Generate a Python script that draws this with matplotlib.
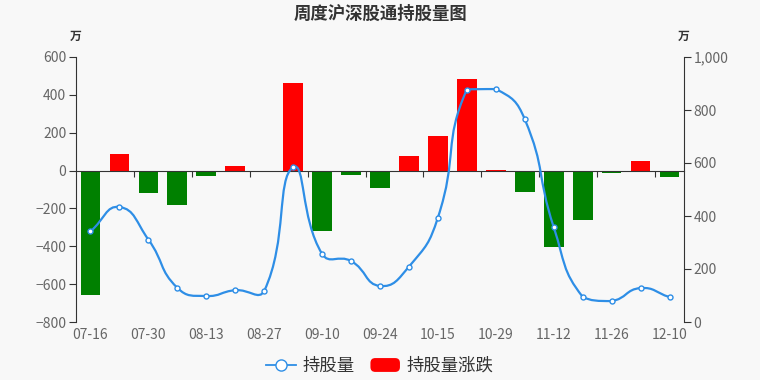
import numpy as np
import matplotlib.pyplot as plt
from matplotlib.path import Path
from matplotlib.patches import PathPatch, Patch, FancyBboxPatch
from matplotlib.lines import Line2D
from matplotlib.legend_handler import HandlerPatch
from matplotlib.ticker import MultipleLocator, FuncFormatter, FixedLocator

plt.rcParams['font.family'] = ['Noto Sans CJK SC', 'DejaVu Sans']

dates = ['07-16', '07-23', '07-30', '08-06', '08-13', '08-20', '08-27', '09-03',
         '09-10', '09-17', '09-24', '10-08', '10-15', '10-22', '10-29', '11-05',
         '11-12', '11-19', '11-26', '12-03', '12-10']
# 持股量 (万)
holding = [342, 434, 311, 129, 98, 120, 117, 584, 257, 230, 136, 209, 394,
           877, 879, 765, 358, 95, 79, 128, 94]
# 持股量涨跌 (万)
change = [-655, 90, -121, -181, -29, 23, -2, 463, -320, -26, -91, 75, 185,
          482, 5, -113, -405, -260, -14, 49, -33]

bg = '#f8f8f8'
axis_c = '#333333'
label_c = '#666666'
line_c = '#2e8ee6'


class RoundBox(HandlerPatch):
    def create_artists(self, legend, orig, xd, yd, w, h, fs, trans):
        p = FancyBboxPatch((-xd, -yd), w, h,
                           boxstyle='round,pad=0,rounding_size=%f' % (h * 0.35),
                           facecolor=orig.get_facecolor(), edgecolor='none',
                           transform=trans)
        return [p]


fig = plt.figure(figsize=(7.6, 3.8), dpi=100, facecolor=bg)
ax = fig.add_axes([76 / 760, 1 - 322 / 380, 608 / 760, 265 / 380])
ax.set_facecolor('none')
ax2 = ax.twinx()

x = np.arange(len(dates))
colors = ['#ff0000' if v >= 0 else '#008000' for v in change]
ax.bar(x, change, width=0.68, color=colors, zorder=2)

ax.set_xlim(-0.5, len(dates) - 0.5)
ax.set_ylim(-800, 600)
ax.yaxis.set_major_locator(MultipleLocator(200))
ax2.set_ylim(0, 1000)
ax2.yaxis.set_major_locator(MultipleLocator(200))
ax2.yaxis.set_major_formatter(FuncFormatter(lambda v, p: f'{int(v):,}'))

# x axis line sits on zero, ticks on every second category boundary
ax.spines['bottom'].set_position(('data', 0))
ax.spines['bottom'].set_color(axis_c)
ax.xaxis.set_major_locator(FixedLocator(np.arange(1.5, len(dates) - 1, 2)))
ax.xaxis.set_major_formatter(FuncFormatter(lambda v, p: ''))
ax.tick_params(axis='x', length=4, color=axis_c, direction='out')

sec = ax.secondary_xaxis(-0.0)
sec.spines['bottom'].set_visible(False)
sec.set_xticks(x[::2])
sec.set_xticklabels(dates[::2])
sec.tick_params(length=0, labelsize=10, labelcolor=label_c, pad=4)

for s in ['top', 'right']:
    ax.spines[s].set_visible(False)
for s in ['top', 'left', 'bottom']:
    ax2.spines[s].set_visible(False)
ax.spines['left'].set_color(axis_c)
ax2.spines['right'].set_color(axis_c)
ax.tick_params(axis='y', length=5, color=axis_c, labelsize=10, labelcolor=label_c, pad=2)
ax2.tick_params(axis='y', length=5, color=axis_c, labelsize=10, labelcolor=label_c, pad=2)

# smooth line (bezier through the points, control points from neighbours,
# clamped to the data's bounding box)
pts = ax2.transData.transform(np.column_stack([x, holding]))
lo, hi = pts.min(axis=0), pts.max(axis=0)
smooth = 0.5
n = len(pts)
cps_out = []
cps_in = []
for i in range(n):
    prev = pts[i - 1] if i > 0 else pts[i]
    nxt = pts[i + 1] if i < n - 1 else pts[i]
    v = nxt - prev
    d0 = np.hypot(*(pts[i] - prev))
    d1 = np.hypot(*(nxt - pts[i]))
    tot = d0 + d1 if d0 + d1 else 1
    cps_in.append(np.clip(pts[i] - v * smooth * d0 / tot, lo, hi))
    cps_out.append(np.clip(pts[i] + v * smooth * d1 / tot, lo, hi))
verts = [pts[0]]
codes = [Path.MOVETO]
for i in range(n - 1):
    verts += [cps_out[i], cps_in[i + 1], pts[i + 1]]
    codes += [Path.CURVE4] * 3
verts = ax2.transData.inverted().transform(np.array(verts))
ax2.add_patch(PathPatch(Path(verts, codes), facecolor='none', edgecolor=line_c,
                        lw=1.6, zorder=3))
ax2.plot(x, holding, ls='none', marker='o', ms=3.6, mfc='white', mec=line_c,
         mew=1.0, zorder=4)

fig.text(0.5, 1 - 14 / 380, '周度沪深股通持股量图', ha='center', va='center',
         fontsize=12.5, fontweight='bold', color='#333333')
fig.text(76 / 760, 1 - 36 / 380, '万', ha='center', va='center', fontsize=8.5,
         fontweight='bold', color='#333333')
fig.text(684 / 760, 1 - 36 / 380, '万', ha='center', va='center', fontsize=8.5,
         fontweight='bold', color='#333333')

handles = [
    Line2D([0], [0], color=line_c, lw=1.3, marker='o', ms=8, mfc='white', mec=line_c),
    Patch(facecolor='#ff0000', edgecolor='none'),
]
fig.legend(handles, ['持股量', '持股量涨跌'], loc='center', ncol=2,
           bbox_to_anchor=(0.5, 1 - 366 / 380), frameon=False, fontsize=12.5,
           handlelength=1.7, handleheight=0.85, handletextpad=0.4,
           columnspacing=0.9, labelcolor='#333333',
           handler_map={Patch: RoundBox()})

fig.savefig('out.png', dpi=100, facecolor=bg)
